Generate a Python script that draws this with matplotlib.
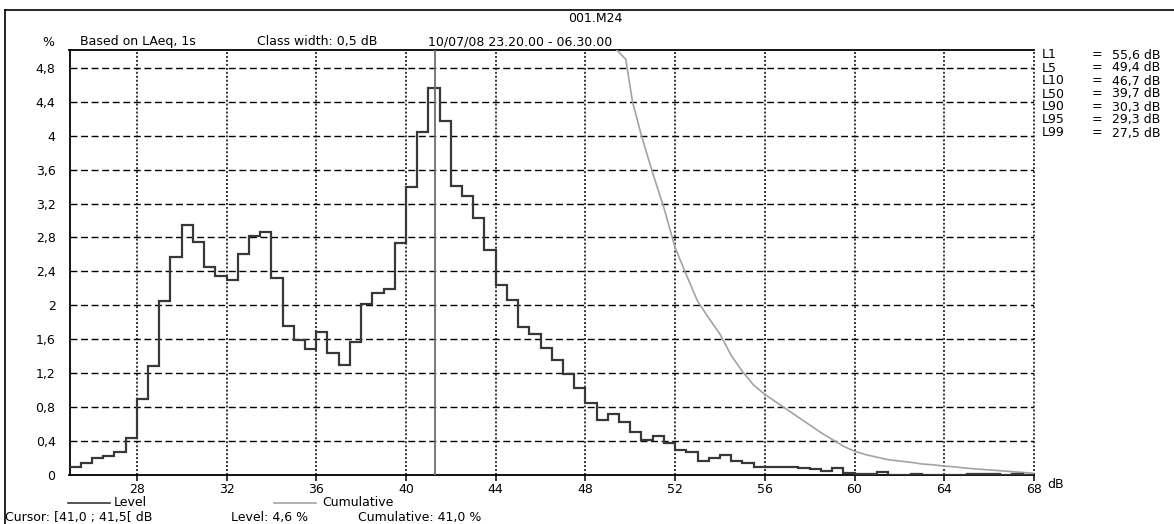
import numpy as np
import matplotlib
matplotlib.use("Agg")
import matplotlib.pyplot as plt
from matplotlib.lines import Line2D

W, H = 1174, 524

# ---------------- data ----------------
class_width = 0.5
bin_start = 25.0
level_pct = [
    0.10, 0.14, 0.20, 0.22, 0.27, 0.44, 0.90, 1.28, 2.05, 2.57,   # 25.0 - 29.5
    2.95, 2.75, 2.45, 2.35, 2.30, 2.60, 2.82, 2.87, 2.32, 1.76,   # 30.0 - 34.5
    1.59, 1.49, 1.68, 1.44, 1.30, 1.57, 2.01, 2.15, 2.19, 2.73,   # 35.0 - 39.5
    3.39, 4.04, 4.56, 4.17, 3.41, 3.29, 3.03, 2.65, 2.24, 2.06,   # 40.0 - 44.5
    1.75, 1.66, 1.50, 1.35, 1.19, 1.02, 0.85, 0.65, 0.72, 0.63,   # 45.0 - 49.5
    0.51, 0.41, 0.46, 0.38, 0.29, 0.27, 0.16, 0.20, 0.24, 0.16,   # 50.0 - 54.5
    0.14, 0.10, 0.09, 0.09, 0.10, 0.08, 0.07, 0.05, 0.08, 0.02,   # 55.0 - 59.5
    0.01, 0.01, 0.03, 0.005, 0.005, 0.012, 0.005, 0.005, 0.003, 0.003,  # 60.0 - 64.5
    0.008, 0.008, 0.008, 0.003, 0.008, 0.003,                     # 65.0 - 67.5
]
cum_db = [49.0, 49.8, 50.1, 50.5, 51.0, 51.5, 52.0, 52.5, 53.0, 53.5,
          54.0, 54.5, 55.0, 55.5, 56.0, 56.5, 57.0, 57.5, 58.0, 58.5,
          59.0, 59.5, 60.0, 60.5, 61.0, 61.5, 62.0, 62.5, 63.0, 63.5,
          64.0, 64.5, 65.0, 65.5, 66.0, 66.5, 67.0, 67.5, 68.0]
cum_pct = [5.12, 4.90, 4.40, 4.00, 3.56, 3.15, 2.68, 2.36, 2.05, 1.85,
           1.66, 1.41, 1.22, 1.06, 0.95, 0.86, 0.77, 0.68, 0.59, 0.50,
           0.42, 0.34, 0.28, 0.24, 0.21, 0.18, 0.165, 0.15, 0.13, 0.12,
           0.105, 0.095, 0.08, 0.07, 0.06, 0.05, 0.04, 0.03, 0.02]
cursor_db = 41.3
x_ticks = [28, 32, 36, 40, 44, 48, 52, 56, 60, 64, 68]
y_ticks = [0, 0.4, 0.8, 1.2, 1.6, 2.0, 2.4, 2.8, 3.2, 3.6, 4.0, 4.4, 4.8]
y_tick_labels = ["0", "0,4", "0,8", "1,2", "1,6", "2", "2,4", "2,8",
                 "3,2", "3,6", "4", "4,4", "4,8"]
stat_names = ["L1", "L5", "L10", "L50", "L90", "L95", "L99"]
stat_values = ["55,6 dB", "49,4 dB", "46,7 dB", "39,7 dB", "30,3 dB", "29,3 dB", "27,5 dB"]

title = "001.M24"
subtitle_parts = ["Based on LAeq, 1s", "Class width: 0,5 dB", "10/07/08 23.20.00 - 06.30.00"]
cursor_parts = ["Cursor: [41,0 ; 41,5[ dB", "Level: 4,6 %", "Cumulative: 41,0 %"]

# ---------------- style ----------------
plt.rcParams['font.family'] = ['DejaVu Sans']
FS = 9
HIST_C = '#383838'
CUM_C = '#a3a3a3'


def fx(px):
    return px / W


def fy(py):
    return 1 - py / H


fig = plt.figure(figsize=(W / 100, H / 100), dpi=100)
fig.patch.set_facecolor('white')

left_px, right_px, top_px, bot_px = 69.5, 1034, 50, 475
ax = fig.add_axes([fx(left_px), fy(bot_px), (right_px - left_px) / W, (bot_px - top_px) / H])

edges = bin_start + class_width * np.arange(len(level_pct) + 1)
ax.stairs(level_pct, edges, baseline=None, color=HIST_C, lw=1.6, zorder=4)
ax.plot(cum_db, cum_pct, color=CUM_C, lw=1.2, zorder=3)
ax.axvline(cursor_db, color='#6e6e6e', lw=1.3, zorder=5)

ax.set_xlim(25, 68)
ax.set_ylim(0, 5.01)

for yv in y_ticks[1:]:
    ax.axhline(yv, color='black', lw=1.0, ls=(0, (5, 2.6)), zorder=1)
for xv in x_ticks:
    ax.axvline(xv, color='black', lw=1.1, ls=(0, (1.3, 1.3)), zorder=1, clip_on=False)

for s in ['left', 'bottom', 'top']:
    ax.spines[s].set_linewidth(1.3)
    ax.spines[s].set_color('black')
ax.spines['right'].set_visible(False)

ax.set_xticks(x_ticks)
ax.set_xticklabels([str(v) for v in x_ticks], fontsize=FS)
ax.set_yticks(y_ticks)
ax.set_yticklabels(y_tick_labels, fontsize=FS)
ax.tick_params(axis='x', length=4, width=1.1, pad=2)
ax.tick_params(axis='y', length=0, pad=10)

# "dB" unit after last tick
fig.text(fx(1047), fy(484), "dB", fontsize=FS, ha='left', va='center')

# header
fig.text(fx(595), fy(18), title, fontsize=FS, ha='center', va='center')
fig.text(fx(48), fy(42), "%", fontsize=FS, ha='center', va='center')
for txt, xp in zip(subtitle_parts, [80, 257, 428]):
    fig.text(fx(xp), fy(42), txt, fontsize=FS, ha='left', va='center')

# statistics column
for i, (nm, val) in enumerate(zip(stat_names, stat_values)):
    yp = 55 + 13 * i
    fig.text(fx(1042), fy(yp), nm, fontsize=FS, ha='left', va='center')
    fig.text(fx(1092), fy(yp), "=", fontsize=FS, ha='left', va='center')
    fig.text(fx(1112), fy(yp), val, fontsize=FS, ha='left', va='center')

# legend row
fig.add_artist(Line2D([fx(68), fx(110)], [fy(503), fy(503)], color=HIST_C, lw=1.2))
fig.text(fx(114), fy(503), "Level", fontsize=FS, ha='left', va='center')
fig.add_artist(Line2D([fx(274), fx(316)], [fy(503), fy(503)], color=CUM_C, lw=1.2))
fig.text(fx(322), fy(503), "Cumulative", fontsize=FS, ha='left', va='center')

# cursor info row
for txt, xp in zip(cursor_parts, [5, 231, 358]):
    fig.text(fx(xp), fy(517), txt, fontsize=FS, ha='left', va='center')

# outer frame (top and left edges)
fig.add_artist(Line2D([fx(5), fx(W)], [fy(10), fy(10)], color='black', lw=1.2))
fig.add_artist(Line2D([fx(5), fx(5)], [fy(10), fy(H)], color='black', lw=1.2))

fig.savefig("out.png", dpi=100)
